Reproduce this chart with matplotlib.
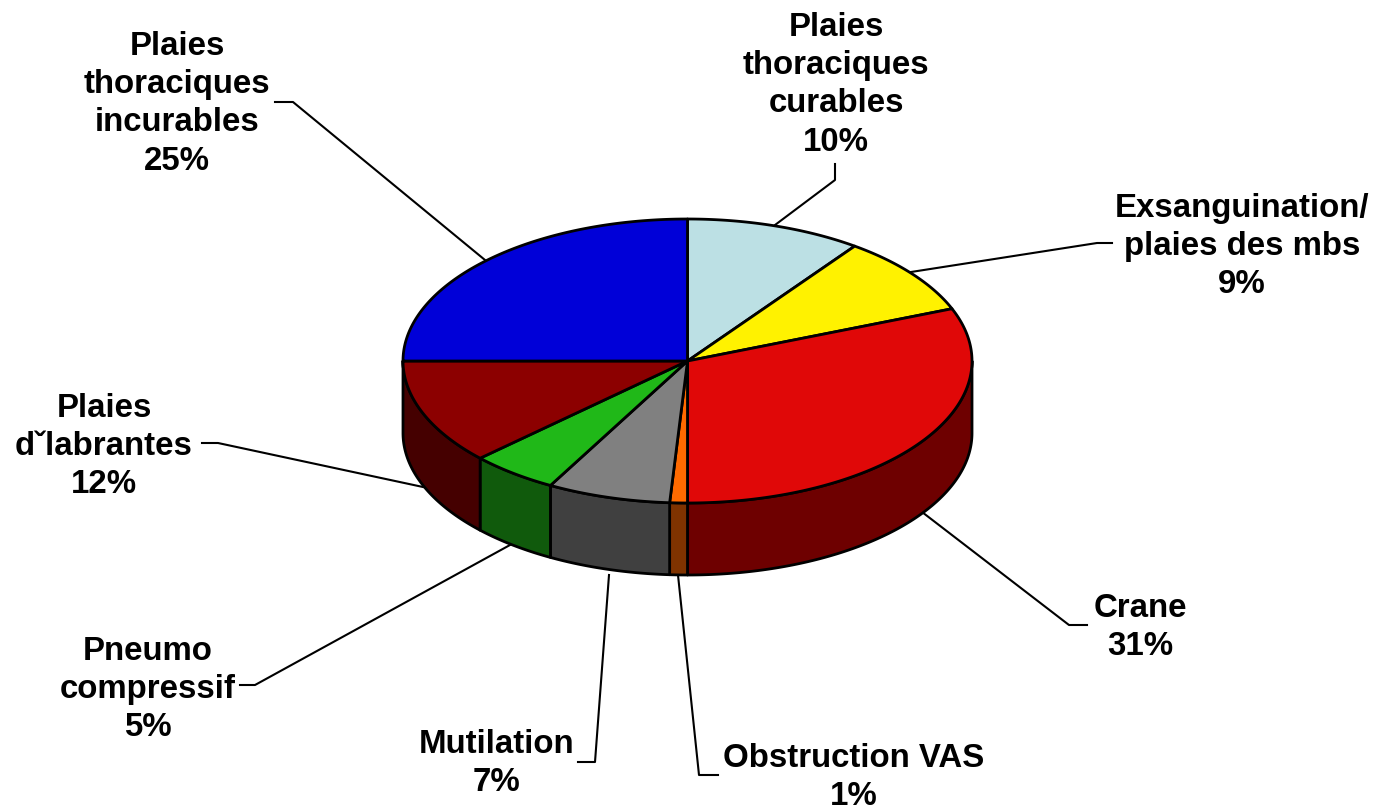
import matplotlib
matplotlib.use('Agg')
import matplotlib.pyplot as plt
import numpy as np

# Shares, clockwise from 12 o'clock
names = ['Plaies\nthoraciques\ncurables', 'Exsanguination/\nplaies des mbs', 'Crane',
         'Obstruction VAS', 'Mutilation', 'Pneumo\ncompressif', 'Plaies\nd\u02c7labrantes',
         'Plaies\nthoraciques\nincurables']
values = [10, 9, 31, 1, 7, 5, 12, 25]
top_colors = ['#bce0e4', '#fff200', '#e00808', '#ff6a00', '#808080', '#20b818', '#8c0000', '#0000d8']
side_colors = ['#5e7072', '#807900', '#6e0000', '#7f3300', '#404040', '#105a0c', '#450000', '#00006c']

# Label centre (x, y of the first line) and leader line, in pixels
label_pos = [(836, 24), (1242, 205), (1140, 605), (854, 755), (497, 741), (148, 648), (104, 405), (177, 43)]
leaders = [
    [(775, 225), (835, 180), (835, 164)],
    [(911, 272), (1097, 243), (1112, 243)],
    [(922, 512), (1069, 625), (1087, 625)],
    [(678, 575), (699, 775), (718, 775)],
    [(609, 575), (595, 762), (578, 762)],
    [(510, 545), (255, 685), (240, 685)],
    [(423, 487), (218, 443), (202, 443)],
    [(485, 260), (293, 102), (275, 102)],
]

cx, cy, rx, ry, depth = 687.5, 361, 284.5, 142, 72
line_h = 38.2


def rim(a0, a1):
    t = np.radians(np.linspace(a0, a1, max(int(abs(a1 - a0)) * 2, 2) + 1))
    return cx + rx * np.sin(t), cy - ry * np.cos(t)


fig = plt.figure(figsize=(13.76, 8.09), dpi=100)
ax = fig.add_axes([0, 0, 1, 1])
ax.set_xlim(0, 1376)
ax.set_ylim(809, 0)
ax.axis('off')

edges = np.cumsum([0] + values) * 3.6

# side wall first, only the front half shows
for i in range(len(values)):
    a0, a1 = max(edges[i], 90), min(edges[i + 1], 270)
    if a1 <= a0:
        continue
    x, y = rim(a0, a1)
    ax.fill(np.r_[x, x[::-1]], np.r_[y, y[::-1] + depth], facecolor=side_colors[i],
            edgecolor='black', lw=2, joinstyle='round', zorder=2)

# top face
for i in range(len(values)):
    x, y = rim(edges[i], edges[i + 1])
    ax.fill(np.r_[cx, x], np.r_[cy, y], facecolor=top_colors[i],
            edgecolor='black', lw=2, joinstyle='round', zorder=3)

for pts in leaders:
    xs, ys = zip(*pts)
    ax.plot(xs, ys, color='black', lw=1.5, zorder=1)

for name, v, (lx, ly) in zip(names, values, label_pos):
    lines = name.split('\n') + [f'{v}%']
    for k, s in enumerate(lines):
        ax.text(lx, ly + k * line_h, s, ha='center', va='center_baseline',
                fontsize=23.8, fontweight='bold', family='Liberation Sans', color='black', zorder=4)

fig.savefig('out.png', dpi=100)
